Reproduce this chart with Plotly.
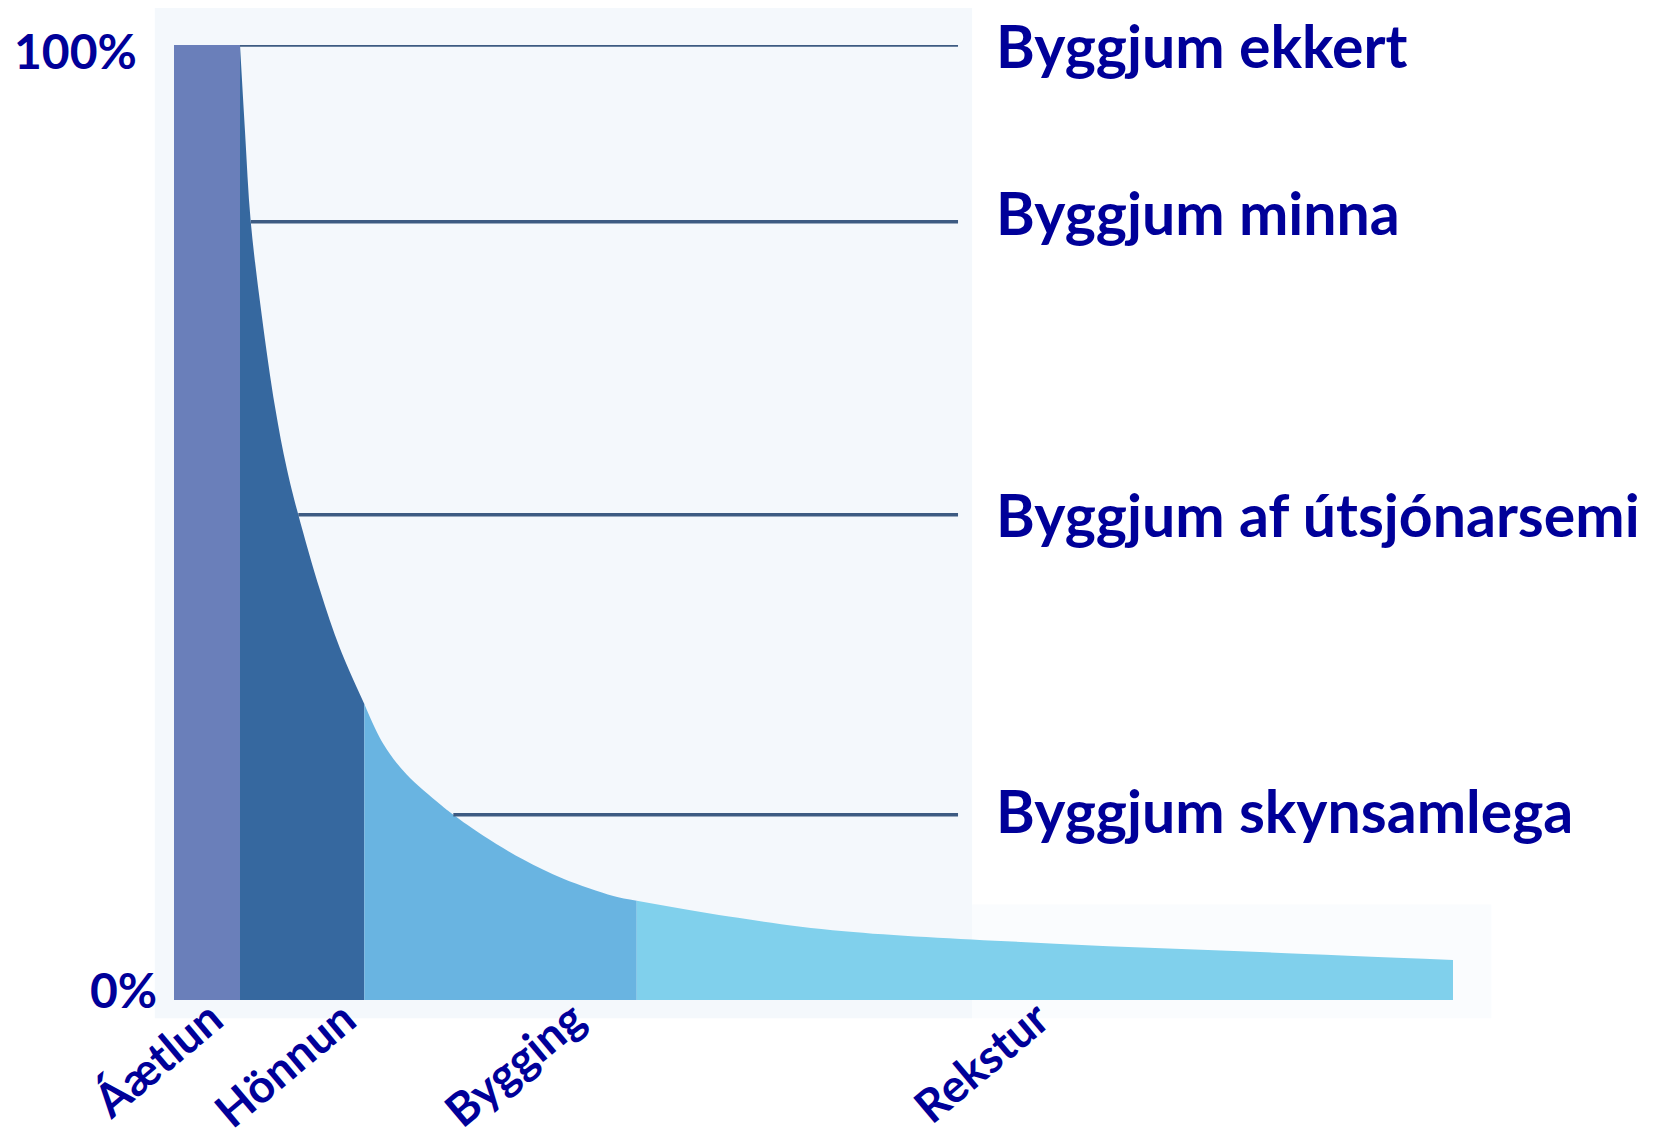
import plotly.graph_objects as go

# ---- data ----
phases = ["Áætlun", "Hönnun", "Bygging", "Rekstur"]
phase_colors = ["#6a7fba", "#36689f", "#69b4e1", "#80d0ec"]

# top edge of each phase's area (x: lifecycle units 0-100, y: % influence)
aaetlun_x = [0, 5.16]
aaetlun_y = [100, 100]
honnun_x = [5.16, 5.55, 6.0, 6.86, 7.9, 8.81, 9.72, 11.42, 12.98, 14.88]
honnun_y = [100, 91.0, 81.5, 71.7, 62.1, 55.7, 50.8, 42.9, 36.8, 31.0]
bygging_x = [14.88, 16.37, 18.19, 20.8, 21.84, 24.19, 27.31, 30.44, 34.35, 36.18]
bygging_y = [31.0, 26.8, 23.6, 20.5, 19.4, 17.2, 14.7, 12.7, 10.9, 10.4]
rekstur_x = [36.18, 44.1, 52.4, 68.9, 85.4, 100]
rekstur_y = [10.4, 8.6, 7.2, 5.9, 5.0, 4.2]

level_labels = ["Byggjum ekkert", "Byggjum minna", "Byggjum af útsjónarsemi", "Byggjum skynsamlega"]
level_y = [100, 81.5, 50.8, 19.4]
level_start_x = [5.16, 6.0, 9.72, 21.84]
level_end_x = 61.3
level_label_x = 64.1
level_label_y = [100, 82.5, 50.8, 19.8]

phase_label_x = [4.8, 15.2, 33.1, 69.4]

pct_labels = ["0%", "100%"]
pct_values = [0, 100]

TXT = "#000099"
FONT = "Lato"

fig = go.Figure()

segments = [(aaetlun_x, aaetlun_y, "linear"), (honnun_x, honnun_y, "spline"),
            (bygging_x, bygging_y, "spline"), (rekstur_x, rekstur_y, "spline")]
for (xs, ys, shape), name, col in zip(segments, phases, phase_colors):
    fig.add_trace(go.Scatter(
        x=xs, y=ys, mode="lines", name=name, fill="tozeroy", fillcolor=col,
        line=dict(color=col, width=0, shape=shape, smoothing=1.0),
        hoverinfo="skip", showlegend=False))

# horizontal level lines
for y0, xs in zip(level_y, level_start_x):
    fig.add_trace(go.Scatter(
        x=[xs, level_end_x], y=[y0, y0], mode="lines",
        line=dict(color="#3d5b82", width=3.5), hoverinfo="skip", showlegend=False))

annotations = []
for txt, y0 in zip(level_labels, level_label_y):
    annotations.append(dict(x=level_label_x, y=y0, xref="x", yref="y", text=txt,
                            showarrow=False, xanchor="left", yanchor="middle",
                            font=dict(family=FONT, size=59, color=TXT, weight="bold")))

for txt, xp in zip(phases, phase_label_x):
    annotations.append(dict(x=xp, y=0.014, xref="x", yref="paper", text=txt,
                            showarrow=False, xanchor="right", yanchor="top",
                            textangle=-40,
                            font=dict(family=FONT, size=46, color=TXT, weight="bold")))

pct_x = {"0%": -0.012, "100%": -0.027}
pct_shift = {"0%": 11, "100%": -5}
for txt, v in zip(pct_labels, pct_values):
    annotations.append(dict(x=pct_x[txt], y=v, xref="paper", yref="y", text=txt,
                            showarrow=False, xanchor="right", yanchor="middle",
                            yshift=pct_shift[txt],
                            font=dict(family=FONT, size=48, color=TXT, weight="bold")))

shapes = [
    dict(type="rect", xref="paper", yref="paper", x0=-0.015, x1=0.624, y0=-0.019, y1=1.042,
         fillcolor="#f4f8fc", line=dict(width=0), layer="below"),
    dict(type="rect", xref="paper", yref="paper", x0=0.624, x1=1.03, y0=-0.019, y1=0.1,
         fillcolor="#fafcfe", line=dict(width=0), layer="below"),
]

fig.update_layout(
    width=1646, height=1136,
    margin=dict(l=166, r=201, t=37, b=144),
    paper_bgcolor="white", plot_bgcolor="rgba(0,0,0,0)",
    xaxis=dict(range=[0, 100], visible=False, fixedrange=True),
    yaxis=dict(range=[0, 100], visible=False, fixedrange=True),
    annotations=annotations, shapes=shapes,
)

fig.write_html("out.html")
